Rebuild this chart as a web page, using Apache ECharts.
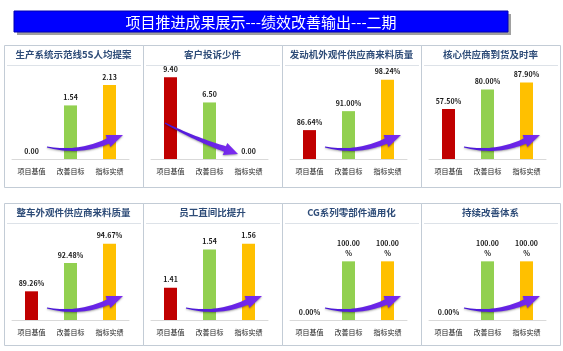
<!DOCTYPE html>
<html>
<head>
<meta charset="utf-8">
<script src="https://cdn.jsdelivr.net/npm/echarts@6/dist/echarts.min.js"></script>
<style>
  html, body { margin: 0; padding: 0; background: #fff; }
  #main { width: 563px; height: 351px; }
</style>
</head>
<body>
<div id="main"></div>
<script>
// ---- data ----
const heading = "项目推进成果展示---绩效改善输出---二期";
const titles = [
  "生产系统示范线5S人均提案",
  "客户投诉少件",
  "发动机外观件供应商来料质量",
  "核心供应商到货及时率",
  "整车外观件供应商来料质量",
  "员工直间比提升",
  "CG系列零部件通用化",
  "持续改善体系",
];
const categories = ["项目基值", "改善目标", "指标实绩"];
const values = [
  [0, 1.54, 2.13],
  [9.4, 6.5, 0],
  [86.64, 91.0, 98.24],
  [57.5, 80.0, 87.9],
  [89.26, 92.48, 94.67],
  [1.41, 1.54, 1.56],
  [0, 100, 100],
  [0, 100, 100],
];
const isPercent = [false, false, true, true, true, false, true, true];
const axisMin = [0, 0, 80, 0, 86, 1.3, 0, 0];
const axisMax = [2.5, 10, 100, 100, 96, 1.6, 150, 150];
const trendDown = [false, true, false, false, false, false, false, false];

// ---- layout / style ----
const barColors = ["#c00000", "#92d050", "#ffc000"];
const FONT = '"Noto Sans CJK SC", "Noto Sans", sans-serif';
const panelLeft = [4, 143, 282, 421];
const panelW = 139;
const rowTop = [45, 203];
const rowBottom = [187, 345];
const baseY = [159, 320];
const plotH = [87, 88];

function arrowPoints(t, c, b, p) {
  const side1 = [], side2 = [];
  const n = 20;
  for (let i = 0; i <= n; i++) {
    const s = i / n;
    const x = (1 - s) * (1 - s) * t[0] + 2 * s * (1 - s) * c[0] + s * s * b[0];
    const y = (1 - s) * (1 - s) * t[1] + 2 * s * (1 - s) * c[1] + s * s * b[1];
    let dx = 2 * (1 - s) * (c[0] - t[0]) + 2 * s * (b[0] - c[0]);
    let dy = 2 * (1 - s) * (c[1] - t[1]) + 2 * s * (b[1] - c[1]);
    const L = Math.hypot(dx, dy);
    dx /= L; dy /= L;
    const w = 0.6 + 2.3 * s;
    side1.push([x - dy * w, y + dx * w]);
    side2.push([x + dy * w, y - dx * w]);
  }
  let hx = p[0] - b[0], hy = p[1] - b[1];
  const HL = Math.hypot(hx, hy);
  hx /= HL; hy /= HL;
  const hw = 6.5;
  side1.push([b[0] - hy * hw, b[1] + hx * hw]);
  side1.push(p);
  side1.push([b[0] + hy * hw, b[1] - hx * hw]);
  return side1.concat(side2.reverse());
}

const grids = [], xAxes = [], yAxes = [], series = [], graphics = [];

// banner
graphics.push({ type: "rect", shape: { x: 17, y: 14, width: 494, height: 21 }, style: { fill: "#a0a0a0" }, z: 1 });
graphics.push({ type: "rect", shape: { x: 14, y: 11, width: 494, height: 21 }, style: { fill: "#0000ff", stroke: "#0000b0", lineWidth: 1 }, z: 2 });
graphics.push({
  type: "text", x: 261, y: 22, z: 3,
  style: { text: heading, fill: "#ffffff", font: "15px " + FONT, textAlign: "center", textVerticalAlign: "middle" },
});

titles.forEach((title, i) => {
  const row = Math.floor(i / 4), col = i % 4;
  const px = panelLeft[col];
  const top = rowTop[row];
  const base = baseY[row];
  const pct = isPercent[i];

  graphics.push({
    type: "rect", z: 1,
    shape: { x: px + 0.5, y: top + 0.5, width: panelW, height: rowBottom[row] - top },
    style: { fill: "none", stroke: "#c3ccd6", lineWidth: 1 },
  });
  graphics.push({
    type: "line", z: 1,
    shape: { x1: px + 3, y1: top + 20.5, x2: px + panelW - 2, y2: top + 20.5 },
    style: { stroke: "#dde2e8", lineWidth: 1 },
  });
  graphics.push({
    type: "text", x: px + panelW / 2, y: top + 9, z: 2,
    style: { text: title, fill: "#2e4c78", font: "bold 9.5px " + FONT, textAlign: "center", textVerticalAlign: "middle" },
  });

  grids.push({ left: px + 8, width: 117, top: base - plotH[row], height: plotH[row] });
  xAxes.push({
    type: "category", gridIndex: i, data: categories,
    axisTick: { show: false },
    axisLine: { lineStyle: { color: "#d9d9d9" } },
    axisLabel: { fontSize: 7, color: "#222", margin: 9, fontFamily: FONT },
  });
  yAxes.push({ type: "value", gridIndex: i, min: axisMin[i], max: axisMax[i], show: false });
  series.push({
    type: "bar", xAxisIndex: i, yAxisIndex: i, barWidth: 13,
    data: values[i].map((v, k) => ({ value: v, itemStyle: { color: barColors[k] } })),
    label: {
      show: true, position: "top", distance: 3,
      fontSize: 7, fontWeight: "bold", color: "#1a1a1a", fontFamily: FONT, lineHeight: 10,
      formatter: (p) => {
        const s = p.value.toFixed(2);
        if (!pct) return s;
        return p.value >= 100 ? s + "\n%" : s + "%";
      },
    },
  });

  // trend arrow
  let t, c, b, p;
  if (trendDown[i]) {
    t = [px + 22, base - 36]; c = [px + 52, base - 20]; b = [px + 82, base - 10]; p = [px + 95, base - 5];
  } else {
    t = [px + 43, base - 12]; c = [px + 75, base - 5]; b = [px + 104, base - 18]; p = [px + 119, base - 24];
  }
  graphics.push({
    type: "polygon", z: 20,
    shape: { points: arrowPoints(t, c, b, p) },
    style: {
      fill: new echarts.graphic.LinearGradient(0, 0, 1, 0, [
        { offset: 0, color: "#4616d6" },
        { offset: 1, color: "#7d2cf0" },
      ]),
      shadowBlur: 2, shadowColor: "rgba(0,0,0,0.35)", shadowOffsetY: 1,
    },
  });
});

const chart = echarts.init(document.getElementById("main"));
chart.setOption({
  animation: false,
  backgroundColor: "#fff",
  grid: grids,
  xAxis: xAxes,
  yAxis: yAxes,
  series: series,
  graphic: { elements: graphics },
});
</script>
</body>
</html>
